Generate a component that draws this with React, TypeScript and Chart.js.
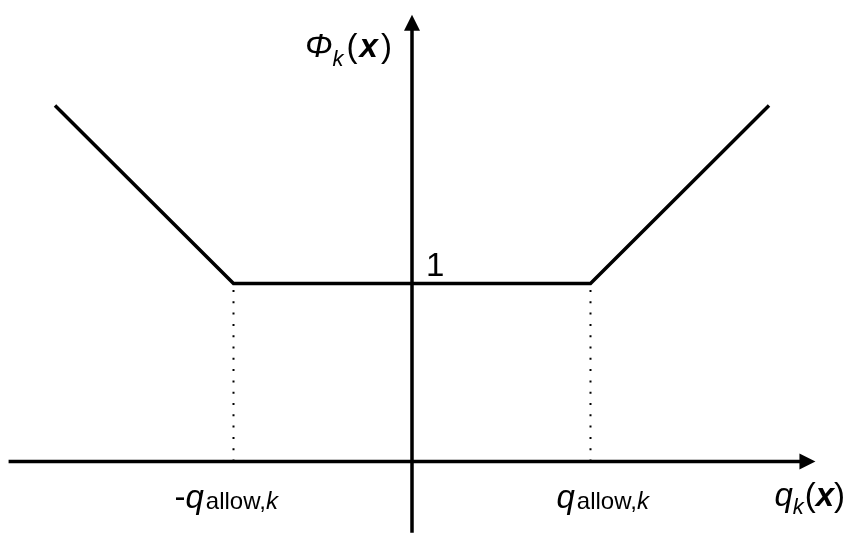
import React, { useEffect, useRef } from "react";
import { Chart, registerables } from "chart.js";

Chart.register(...registerables);

// Penalty curve Φk(x) against qk(x): flat at 1 inside ±q_allow, slope 1 outside
const curveQ = [-2, -1, 1, 2];
const curvePhi = [2, 1, 1, 2];

// Dotted guides dropped from the break points to the q axis
const allowQ = [-1, 1];
const allowPhi = 1;

// Extent of the two drawn axes (data units), arrowheads at the positive ends
const qAxisRange = [-2.26, 2.26];
const phiAxisRange = [-0.4, 2.51];

// Tick label on the Φ axis
const phiTickLabel = "1";

const FAMILY = '"Liberation Sans", Arial, sans-serif';
const MAIN = 33;
const SUB = 22;
const SUB_ALLOW = 24;

type Run = { text: string; font: string; dy?: number; gap?: number };

function drawRuns(ctx: CanvasRenderingContext2D, x: number, y: number, runs: Run[]) {
  let cx = x;
  for (const r of runs) {
    ctx.font = r.font;
    ctx.fillText(r.text, cx, y + (r.dy || 0));
    cx += ctx.measureText(r.text).width + (r.gap || 0);
  }
}

const axesPlugin = {
  id: "arrowAxes",
  beforeDatasetsDraw(chart: any) {
    const ctx: CanvasRenderingContext2D = chart.ctx;
    const xs = chart.scales.x;
    const ys = chart.scales.y;
    const x0 = xs.getPixelForValue(0);
    const y0 = ys.getPixelForValue(0);
    const xl = xs.getPixelForValue(qAxisRange[0]);
    const xr = xs.getPixelForValue(qAxisRange[1]);
    const yb = ys.getPixelForValue(phiAxisRange[0]);
    const yt = ys.getPixelForValue(phiAxisRange[1]);
    const head = 16;
    const half = 8;
    ctx.save();
    ctx.strokeStyle = "#000";
    ctx.fillStyle = "#000";
    ctx.lineWidth = 3.5;
    ctx.lineCap = "butt";
    ctx.beginPath();
    ctx.moveTo(xl, y0);
    ctx.lineTo(xr - head + 2, y0);
    ctx.moveTo(x0, yb);
    ctx.lineTo(x0, yt + head - 2);
    ctx.stroke();
    // arrowheads
    ctx.beginPath();
    ctx.moveTo(xr, y0);
    ctx.lineTo(xr - head, y0 - half);
    ctx.lineTo(xr - head, y0 + half);
    ctx.closePath();
    ctx.fill();
    ctx.beginPath();
    ctx.moveTo(x0, yt);
    ctx.lineTo(x0 - half, yt + head);
    ctx.lineTo(x0 + half, yt + head);
    ctx.closePath();
    ctx.fill();
    ctx.restore();
  },
  afterDraw(chart: any) {
    const ctx: CanvasRenderingContext2D = chart.ctx;
    const xs = chart.scales.x;
    const ys = chart.scales.y;
    const x0 = xs.getPixelForValue(0);
    const y0 = ys.getPixelForValue(0);
    const yOne = ys.getPixelForValue(allowPhi);
    const yTop = ys.getPixelForValue(phiAxisRange[1]);
    const xNeg = xs.getPixelForValue(allowQ[0]);
    const xPos = xs.getPixelForValue(allowQ[1]);
    const xEnd = xs.getPixelForValue(qAxisRange[1]);
    const reg = `${MAIN}px ${FAMILY}`;
    const ital = `italic ${MAIN}px ${FAMILY}`;
    const boldItal = `italic bold ${MAIN}px ${FAMILY}`;
    const subItal = `italic ${SUB}px ${FAMILY}`;
    const subA = `${SUB_ALLOW}px ${FAMILY}`;
    const subAItal = `italic ${SUB_ALLOW}px ${FAMILY}`;
    ctx.save();
    ctx.fillStyle = "#000";
    ctx.textBaseline = "alphabetic";
    ctx.textAlign = "left";

    // Φk(x)
    drawRuns(ctx, x0 - 107, yTop + 42, [
      { text: "Φ", font: ital },
      { text: "k", font: subItal, dy: 9, gap: 3 },
      { text: "(", font: reg, gap: 2 },
      { text: "x", font: boldItal, gap: 3 },
      { text: ")", font: reg },
    ]);

    // tick "1"
    ctx.font = reg;
    ctx.fillText(phiTickLabel, x0 + 14, yOne - 8);

    // -q_allow,k
    drawRuns(ctx, xNeg - 59, y0 + 46, [
      { text: "-", font: reg },
      { text: "q", font: ital, gap: 2 },
      { text: "allow,", font: subA, dy: 1 },
      { text: "k", font: subAItal, dy: 1 },
    ]);

    // q_allow,k
    drawRuns(ctx, xPos - 34, y0 + 46, [
      { text: "q", font: ital, gap: 2 },
      { text: "allow,", font: subA, dy: 1 },
      { text: "k", font: subAItal, dy: 1 },
    ]);

    // qk(x)
    drawRuns(ctx, xEnd - 41, y0 + 44, [
      { text: "q", font: ital },
      { text: "k", font: subItal, dy: 8, gap: 1 },
      { text: "(", font: reg },
      { text: "x", font: boldItal },
      { text: ")", font: reg },
    ]);
    ctx.restore();
  },
};

export default function App() {
  const ref = useRef<HTMLCanvasElement | null>(null);

  useEffect(() => {
    if (!ref.current) return;
    const curve = curveQ.map((q, i) => ({ x: q, y: curvePhi[i] }));
    const guides = allowQ.map((q) => ({
      type: "line" as const,
      data: [
        { x: q, y: 0 },
        { x: q, y: allowPhi },
      ],
      borderColor: "#000",
      borderWidth: 2,
      borderDash: [2, 9.3],
      borderDashOffset: 0,
      pointRadius: 0,
      fill: false,
    }));
    const chart = new Chart(ref.current, {
      type: "line",
      data: {
        datasets: [
          {
            data: curve,
            borderColor: "#000",
            borderWidth: 3.5,
            pointRadius: 0,
            fill: false,
            tension: 0,
            borderJoinStyle: "miter",
          },
          ...guides,
        ],
      },
      options: {
        animation: false,
        responsive: false,
        devicePixelRatio: 1,
        layout: { padding: 0 },
        plugins: { legend: { display: false }, tooltip: { enabled: false } },
        scales: {
          x: { type: "linear", min: -412 / 178.5, max: 441 / 178.5, display: false },
          y: { type: "linear", min: -75.5 / 178, max: 461.5 / 178, display: false },
        },
      },
      plugins: [axesPlugin],
    } as any);
    return () => chart.destroy();
  }, []);

  return (
    <div style={{ position: "absolute", left: 0, top: 0, width: 853, height: 537, background: "#fff" }}>
      <canvas ref={ref} width={853} height={537} style={{ display: "block" }} />
    </div>
  );
}
